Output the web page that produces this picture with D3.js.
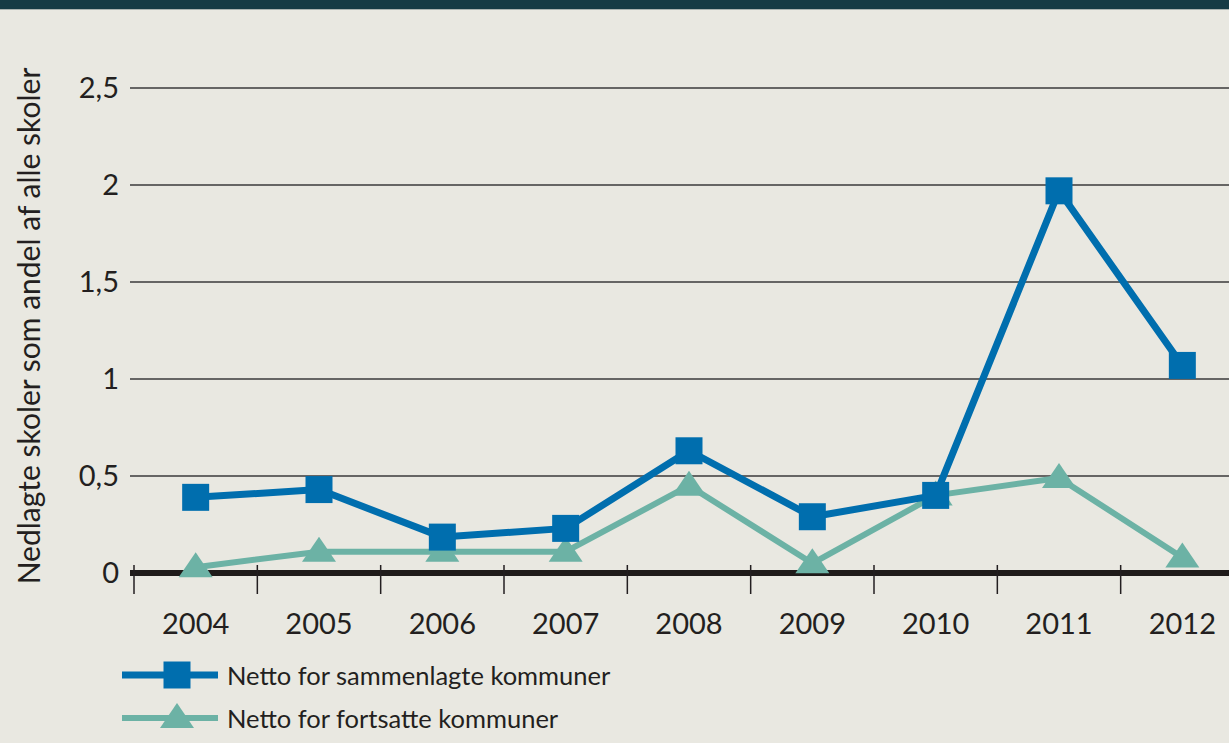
<!DOCTYPE html>
<html>
<head>
<meta charset="utf-8">
<script src="https://cdn.jsdelivr.net/npm/d3@7"></script>
<style>
  body { margin: 0; background: #e9e8e1; }
  svg { display: block; font-family: Lato, "Open Sans", sans-serif; }
</style>
</head>
<body>
<script>
// data
const years = ["2004", "2005", "2006", "2007", "2008", "2009", "2010", "2011", "2012"];
const sammenlagte = [0.39, 0.43, 0.185, 0.23, 0.63, 0.29, 0.40, 1.97, 1.07];
const fortsatte = [0.03, 0.11, 0.11, 0.11, 0.45, 0.05, 0.40, 0.49, 0.08];
const yTicks = [0, 0.5, 1, 1.5, 2, 2.5];
const seriesNames = ["Netto for sammenlagte kommuner", "Netto for fortsatte kommuner"];

const width = 1229, height = 743;
const blue = "#006eae", teal = "#6cb2a5";

const svg = d3.select("body").append("svg")
    .attr("width", width)
    .attr("height", height);

svg.append("rect").attr("width", width).attr("height", height).attr("fill", "#e9e8e1");
// dark band at the top
svg.append("rect").attr("width", width).attr("height", 9).attr("fill", "#153b45");
svg.append("rect").attr("y", 9).attr("width", width).attr("height", 1).attr("fill", "#a9b2b0");

const x = d3.scaleBand().domain(years).range([134, 1244]);
const y = d3.scaleLinear().domain([0, 2.5]).range([573, 88]);

// gridlines
svg.append("g").selectAll("line")
    .data(yTicks.slice(1))
    .enter().append("line")
    .attr("x1", 130).attr("x2", width)
    .attr("y1", d => y(d)).attr("y2", d => y(d))
    .attr("stroke", "#3a3a3a").attr("stroke-width", 1.3);

// y tick labels
svg.append("g").selectAll("text")
    .data(yTicks)
    .enter().append("text")
    .attr("x", 119)
    .attr("y", d => y(d) + 10)
    .attr("text-anchor", "end")
    .attr("font-size", 29)
    .attr("fill", "#231f20")
    .text(d => d3.format(".1~f")(d).replace(".", ","));

// y axis title
svg.append("text")
    .attr("transform", "translate(40,326) rotate(-90)")
    .attr("text-anchor", "middle")
    .attr("font-size", 30)
    .attr("fill", "#231f20")
    .text("Nedlagte skoler som andel af alle skoler");

// x axis: thick baseline + ticks between categories
svg.append("line")
    .attr("x1", 130).attr("x2", width)
    .attr("y1", y(0)).attr("y2", y(0))
    .attr("stroke", "#1f1b1a").attr("stroke-width", 6);

svg.append("g").selectAll("line")
    .data(years)
    .enter().append("line")
    .attr("x1", d => x(d)).attr("x2", d => x(d))
    .attr("y1", 565).attr("y2", 594)
    .attr("stroke", "#231f20").attr("stroke-width", 1.5);

svg.append("g").selectAll("text")
    .data(years)
    .enter().append("text")
    .attr("x", d => x(d) + x.bandwidth() / 2)
    .attr("y", 634)
    .attr("text-anchor", "middle")
    .attr("font-size", 29)
    .attr("fill", "#231f20")
    .text(d => d);

const cx = i => x(years[i]) + x.bandwidth() / 2;
const line = d3.line().x((d, i) => cx(i)).y(d => y(d));

const square = d3.symbol().type(d3.symbolSquare).size(27 * 27);
// flat isosceles triangle like the reference markers
const flatTriangle = {
    draw(ctx, size) {
        const w = 17, h = 25;
        ctx.moveTo(0, -h * 0.6);
        ctx.lineTo(w, h * 0.4);
        ctx.lineTo(-w, h * 0.4);
        ctx.closePath();
    }
};
const triangle = d3.symbol().type(flatTriangle);

// fortsatte (teal) drawn first
svg.append("path")
    .datum(fortsatte)
    .attr("fill", "none")
    .attr("stroke", teal)
    .attr("stroke-width", 6)
    .attr("stroke-linejoin", "round")
    .attr("d", line);

svg.append("g").selectAll("path")
    .data(fortsatte)
    .enter().append("path")
    .attr("transform", (d, i) => "translate(" + cx(i) + "," + y(d) + ")")
    .attr("d", triangle)
    .attr("fill", teal);

svg.append("path")
    .datum(sammenlagte)
    .attr("fill", "none")
    .attr("stroke", blue)
    .attr("stroke-width", 7)
    .attr("stroke-linejoin", "round")
    .attr("d", line);

svg.append("g").selectAll("path")
    .data(sammenlagte)
    .enter().append("path")
    .attr("transform", (d, i) => "translate(" + cx(i) + "," + y(d) + ")")
    .attr("d", square)
    .attr("fill", blue);

// legend
const legend = svg.append("g");
const rows = [
    { name: seriesNames[0], color: blue, sym: square, w: 7, ly: 675 },
    { name: seriesNames[1], color: teal, sym: triangle, w: 6, ly: 718 }
];
rows.forEach(r => {
    legend.append("line")
        .attr("x1", 122).attr("x2", 218)
        .attr("y1", r.ly).attr("y2", r.ly)
        .attr("stroke", r.color).attr("stroke-width", r.w);
    legend.append("path")
        .attr("transform", "translate(177," + r.ly + ")")
        .attr("d", r.sym)
        .attr("fill", r.color);
    legend.append("text")
        .attr("x", 227).attr("y", r.ly + 10)
        .attr("font-size", 25.5)
        .attr("fill", "#231f20")
        .text(r.name);
});
</script>
</body>
</html>
